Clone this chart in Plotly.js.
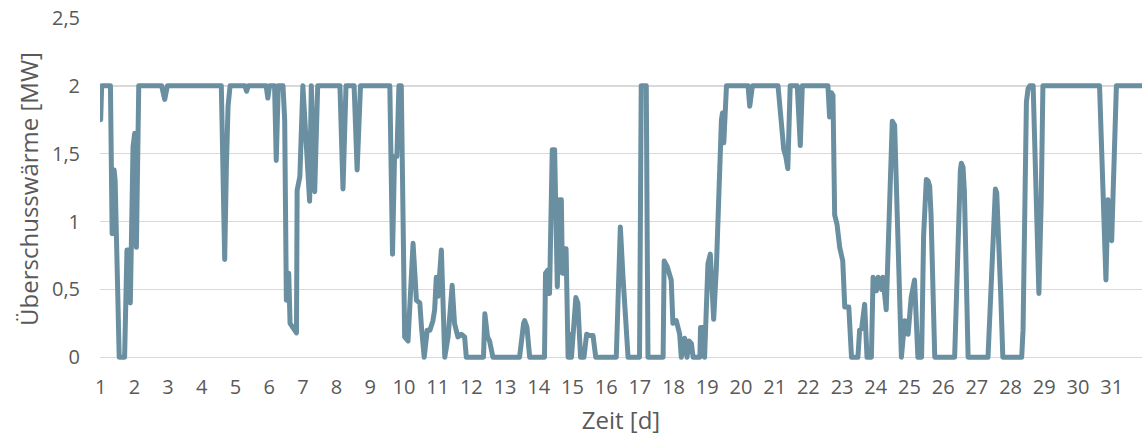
<!DOCTYPE html>
<html>
<head>
<meta charset="utf-8">
<script src="https://cdn.plot.ly/plotly-3.0.1.min.js"></script>
<style>
  html, body { margin: 0; padding: 0; background: #ffffff; overflow: hidden; }
  #chart { width: 1142px; height: 441px; }
  .scatterlayer path.js-line { stroke-linejoin: round; stroke-linecap: round; }
</style>
</head>
<body>
<div id="chart"></div>
<script>
// Zeit [d]
const zeitTage = [
  1.00, 1.03, 1.29, 1.34, 1.40, 1.43, 1.55, 1.71, 1.78, 1.85, 1.88, 1.91, 1.96, 2.01, 2.06, 2.13,
  2.81, 2.90, 2.98, 4.58, 4.68, 4.73, 4.78, 4.84, 5.28, 5.33, 5.38, 5.91, 5.96, 6.01,
  6.16, 6.21, 6.27, 6.41, 6.46, 6.51, 6.58, 6.62, 6.71, 6.81, 6.83, 6.91, 7.00, 7.20, 7.25, 7.35, 7.44,
  8.10, 8.19, 8.28, 8.52, 8.61, 8.71, 9.58, 9.66, 9.72, 9.79, 9.85, 9.92,
  10.02, 10.12, 10.27, 10.37, 10.47, 10.52, 10.60, 10.69, 10.77, 10.86, 10.91, 10.96, 11.01, 11.11,
  11.21, 11.31, 11.43, 11.50, 11.60, 11.70, 11.80, 11.85,
  12.36, 12.40, 12.48, 12.54, 12.64, 13.43, 13.48, 13.55, 13.58, 13.65, 13.73,
  14.17, 14.20, 14.26, 14.32, 14.40, 14.47, 14.55, 14.61, 14.67, 14.70, 14.77, 14.81, 14.87, 14.92, 14.97,
  15.10, 15.16, 15.24, 15.34, 15.42, 15.51, 15.61, 15.69,
  16.30, 16.42, 16.50, 16.65, 16.99, 17.04, 17.19, 17.24,
  17.69, 17.72, 17.81, 17.93, 17.98, 18.08, 18.18, 18.23, 18.33, 18.40, 18.46, 18.53, 18.58,
  18.78, 18.80, 18.87, 18.92, 18.97, 19.02, 19.09, 19.19, 19.27, 19.37, 19.42, 19.45, 19.49, 19.57,
  20.21, 20.26, 20.34, 21.10, 21.20, 21.27, 21.33, 21.39, 21.46, 21.67, 21.76, 21.82,
  22.58, 22.63, 22.68, 22.73, 22.78, 22.85, 22.93, 23.02, 23.08, 23.20, 23.28,
  23.47, 23.52, 23.58, 23.67, 23.74, 23.87, 23.92, 24.02, 24.07, 24.17, 24.21, 24.31,
  24.49, 24.56, 24.76, 24.86, 24.96, 25.05, 25.15, 25.25,
  25.36, 25.42, 25.47, 25.50, 25.55, 25.60, 25.64, 25.69, 25.75,
  26.34, 26.45, 26.51, 26.54, 26.59, 26.63, 26.68, 26.74,
  27.33, 27.46, 27.51, 27.55, 27.59, 27.64, 27.71, 27.77,
  28.33, 28.37, 28.47, 28.52, 28.57, 28.67, 28.84, 28.91, 28.96,
  30.64, 30.83, 30.89, 30.94, 31.00, 31.05, 31.09, 31.14, 31.90
];
// Überschusswärme [MW]
const waermeMW = [
  1.75, 2.00, 2.00, 0.91, 1.38, 1.30, 0.00, 0.00, 0.79, 0.79, 0.40, 0.81, 1.55, 1.65, 0.81, 2.00,
  2.00, 1.90, 2.00, 2.00, 0.72, 1.40, 1.85, 2.00, 2.00, 1.96, 2.00, 2.00, 1.91, 2.00,
  2.00, 1.45, 2.00, 2.00, 1.75, 0.42, 0.62, 0.25, 0.22, 0.18, 1.23, 1.33, 2.00, 1.15, 2.00, 1.22, 2.00,
  2.00, 1.24, 2.00, 2.00, 1.38, 2.00, 2.00, 0.76, 1.48, 1.48, 2.00, 2.00,
  0.15, 0.12, 0.84, 0.42, 0.40, 0.22, 0.00, 0.20, 0.20, 0.27, 0.35, 0.59, 0.45, 0.79,
  0.00, 0.15, 0.53, 0.25, 0.15, 0.17, 0.15, 0.00,
  0.00, 0.32, 0.15, 0.12, 0.00, 0.00, 0.12, 0.25, 0.27, 0.22, 0.00,
  0.00, 0.62, 0.64, 0.47, 1.53, 1.53, 0.52, 1.16, 1.16, 0.62, 0.80, 0.80, 0.00, 0.17, 0.00,
  0.44, 0.40, 0.00, 0.00, 0.17, 0.16, 0.16, 0.00,
  0.00, 0.96, 0.59, 0.00, 0.00, 2.00, 2.00, 0.00,
  0.00, 0.71, 0.67, 0.57, 0.25, 0.27, 0.17, 0.00, 0.14, 0.00, 0.12, 0.10, 0.00,
  0.00, 0.22, 0.22, 0.00, 0.49, 0.69, 0.76, 0.28, 0.66, 1.48, 1.75, 1.80, 1.58, 2.00,
  2.00, 1.85, 2.00, 2.00, 1.70, 1.53, 1.48, 1.39, 2.00, 2.00, 1.56, 2.00,
  2.00, 1.77, 1.95, 1.93, 1.05, 0.98, 0.81, 0.71, 0.37, 0.37, 0.00,
  0.00, 0.20, 0.21, 0.39, 0.00, 0.00, 0.59, 0.49, 0.59, 0.50, 0.59, 0.35,
  1.74, 1.71, 0.00, 0.27, 0.17, 0.44, 0.57, 0.00,
  0.00, 0.90, 1.24, 1.31, 1.30, 1.26, 1.05, 0.55, 0.00,
  0.00, 1.00, 1.38, 1.43, 1.40, 1.22, 0.65, 0.00,
  0.00, 0.85, 1.15, 1.24, 1.21, 0.95, 0.45, 0.00,
  0.00, 0.20, 1.88, 1.98, 2.00, 2.00, 0.47, 1.16, 2.00,
  2.00, 0.57, 1.16, 0.90, 0.86, 1.30, 1.70, 2.00, 2.00
];
const xTickVals = [1,2,3,4,5,6,7,8,9,10,11,12,13,14,15,16,17,18,19,20,21,22,23,24,25,26,27,28,29,30,31];
const xTickText = xTickVals.map(String);
const yTickVals = [0, 0.5, 1, 1.5, 2, 2.5];
const yTickText = ['0', '0,5', '1', '1,5', '2', '2,5'];

const textColor = '#595959';
const fontFam = '"Open Sans", "Noto Sans", sans-serif';

const data = [{
  type: 'scatter',
  mode: 'lines',
  x: zeitTage,
  y: waermeMW,
  line: { color: '#6a8fa1', width: 5, shape: 'linear' },
  hoverinfo: 'x+y',
  showlegend: false
}];

const layout = {
  width: 1142,
  height: 441,
  margin: { l: 100, r: 0, t: 18, b: 81, pad: 0 },
  paper_bgcolor: '#ffffff',
  plot_bgcolor: '#ffffff',
  font: { family: fontFam, color: textColor, size: 20 },
  showlegend: false,
  xaxis: {
    range: [0.98, 31.9],
    tickvals: xTickVals,
    ticktext: xTickText,
    showgrid: false,
    zeroline: false,
    showline: false,
    ticks: '',
    ticklabelstandoff: 13,
    tickfont: { family: fontFam, size: 20, color: textColor },
    title: { text: 'Zeit [d]', font: { family: fontFam, size: 24, color: textColor }, standoff: 13 }
  },
  yaxis: {
    range: [-0.02, 2.5],
    tickvals: yTickVals,
    ticktext: yTickText,
    showgrid: true,
    gridcolor: '#d9d9d9',
    gridwidth: 1.5,
    zeroline: false,
    showline: false,
    ticks: '',
    ticklabelstandoff: 19,
    tickfont: { family: fontFam, size: 20, color: textColor },
    title: { text: 'Überschusswärme [MW]', font: { family: fontFam, size: 24, color: textColor }, standoff: 6 }
  }
};

Plotly.newPlot('chart', data, layout, { displayModeBar: false, staticPlot: true });
</script>
</body>
</html>
